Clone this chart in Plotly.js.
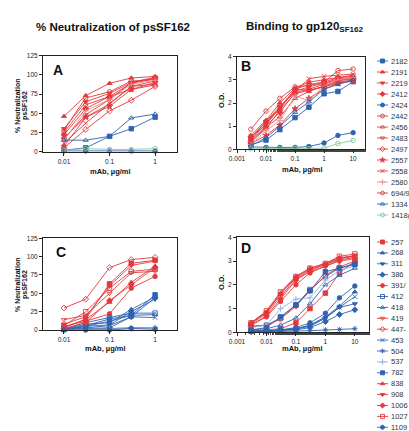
<!DOCTYPE html>
<html><head><meta charset="utf-8">
<script src="https://cdn.plot.ly/plotly-3.0.1.min.js"></script>
<style>html,body{margin:0;padding:0;background:#fff}#chart{width:409px;height:431px}</style>
</head><body><div id="chart"></div>
<script>
// ---------- data ----------
const doseNeut = [0.01, 0.03, 0.1, 0.3, 1];
const doseBind = [0.003, 0.01, 0.03, 0.1, 0.3, 1, 3, 10];

const mabsTop = ['2182','2191','2219','2412','2424','2442','2456','2483','2497','2557','2558','2580','694/9','1334','1418('];
const neutA = [
  [2, 5, 20, 30, 45],
  [46, 73, 89, 96, 98],
  [30, 65, 76, 90, 97],
  [22, 56, 72, 89, 95],
  [1, 1, 1, 1, 1],
  [28, 70, 78, 92, 94],
  [18, 45, 62, 85, 92],
  [17, 48, 68, 90, 96],
  [5, 29, 53, 67, 85],
  [7, 45, 59, 81, 90],
  [11, 37, 63, 85, 88],
  [15, 53, 68, 88, 93],
  [25, 61, 72, 81, 87],
  [15, 15, 20, 44, 49],
  [2, 4, 3, 3, 4]
];
const bindB = [
  [0.2, 0.4, 0.85, 1.37, 1.82, 2.4, 2.5, 2.92],
  [0.6, 1.25, 2.0, 2.65, 2.9, 3.0, 3.1, 3.15],
  [0.5, 1.2, 1.85, 2.5, 2.7, 2.85, 3.05, 3.1],
  [0.4, 1.0, 1.6, 2.45, 2.6, 2.8, 3.0, 3.05],
  [0.1, 0.08, 0.08, 0.08, 0.12, 0.27, 0.6, 0.72],
  [0.87, 1.65, 2.2, 2.7, 2.75, 2.9, 3.4, 3.47],
  [0.35, 0.95, 1.4, 2.2, 2.5, 2.75, 2.95, 3.05],
  [0.45, 1.1, 1.8, 2.6, 2.8, 2.9, 3.1, 3.2],
  [0.3, 0.9, 1.7, 2.4, 2.55, 2.7, 2.9, 3.0],
  [0.25, 0.6, 1.05, 1.75, 2.2, 2.6, 2.85, 2.95],
  [0.55, 1.05, 1.8, 2.5, 3.05, 3.15, 3.2, 3.25],
  [0.2, 0.8, 1.25, 2.3, 2.1, 2.75, 3.0, 3.1],
  [0.5, 1.2, 1.75, 2.6, 2.55, 2.7, 2.85, 2.95],
  [0.15, 0.5, 1.0, 1.6, 2.05, 2.6, 2.8, 3.0],
  [0.02, 0.02, 0.02, 0.03, 0.03, 0.05, 0.25, 0.38]
];

const mabsBottom = ['257','268','311','386','391/','412','418','419','447-','453','504','537','782','838','908','1006','1027','1109'];
const neutC = [
  [3, 15, 63, 91, 95],
  [1, 8, 10, 28, 45],
  [0, 5, 7, 25, 42],
  [0, 2, 3, 18, 44],
  [5, 12, 22, 57, 73],
  [1, 10, 17, 23, 23],
  [0, 5, 12, 20, 21],
  [14, 20, 50, 78, 80],
  [30, 42, 85, 96, 99],
  [0, 3, 6, 18, 17],
  [0, 1, 2, 3, 3],
  [0, 1, 1, 2, 3],
  [1, 6, 15, 20, 48],
  [4, 14, 38, 65, 87],
  [8, 18, 60, 88, 94],
  [2, 10, 40, 62, 85],
  [6, 25, 57, 80, 83],
  [0, 0, 0, 2, 1]
];
const bindD = [
  [0.05, 0.1, 0.15, 0.4, 1.0, 1.65, 2.5, 3.0],
  [0.05, 0.05, 0.1, 0.15, 0.3, 0.65, 1.1, 1.7],
  [0.05, 0.05, 0.1, 0.12, 0.3, 0.6, 1.05, 1.2],
  [0.03, 0.05, 0.08, 0.1, 0.2, 0.45, 0.75, 0.95],
  [0.3, 0.65, 1.3, 2.0, 2.5, 2.8, 3.05, 3.15],
  [0.25, 0.3, 0.6, 1.15, 1.8, 2.35, 2.7, 2.9],
  [0.1, 0.15, 0.3, 0.6, 1.2, 2.0, 2.4, 2.7],
  [0.35, 0.8, 1.5, 2.25, 2.6, 2.85, 3.1, 3.2],
  [0.25, 0.3, 0.55, 1.1, 1.75, 2.4, 2.75, 3.0],
  [0.05, 0.05, 0.1, 0.15, 0.25, 0.6, 1.05, 1.5],
  [0.02, 0.02, 0.03, 0.05, 0.07, 0.1, 0.12, 0.15],
  [0.2, 0.3, 1.0, 1.4, 1.45, 2.2, 2.6, 2.8],
  [0.1, 0.2, 0.65, 1.15, 1.75, 2.55, 2.7, 2.85],
  [0.4, 0.85, 1.65, 2.35, 2.7, 2.9, 3.15, 3.2],
  [0.38, 0.85, 1.6, 2.3, 2.65, 2.85, 3.1, 3.25],
  [0.3, 0.7, 1.4, 2.2, 2.55, 2.8, 3.0, 3.1],
  [0.4, 0.9, 1.7, 2.35, 2.7, 2.9, 3.2, 3.3],
  [0.05, 0.05, 0.1, 0.2, 0.4, 0.8, 1.45, 1.95]
];

const tickNeutVals = [0, 25, 50, 75, 100, 125];
const tickODVals = [0, 1, 2, 3, 4];
const tickDoseNeutVals = [0.01, 0.1, 1];
const tickDoseNeutText = ['0.01', '0.1', '1'];
const tickDoseBindVals = [0.001, 0.01, 0.1, 1, 10];
const tickDoseBindText = ['0.001', '0.01', '0.1', '1', '10'];

// ---------- styles ----------
const RED = '#e2393c', BLUE = '#2f62b0', GREEN = '#86c898', LBLUE = '#93b3de', PINK = '#ea8a8c';
const colorsTop = [BLUE, RED, RED, RED, BLUE, RED, RED, RED, RED, RED, RED, PINK, RED, BLUE, GREEN];
const symbolsTop = ['square','triangle-up','triangle-down','diamond','circle','circle-open','triangle-up-open','triangle-down-open','diamond-open','star','x-thin-open','cross-thin-open','hexagon-open','triangle-up-open','circle-open'];
const colorsBottom = [RED, BLUE, BLUE, BLUE, RED, BLUE, BLUE, RED, RED, BLUE, BLUE, LBLUE, BLUE, RED, RED, RED, RED, BLUE];
const symbolsBottom = ['square','triangle-up','triangle-down','diamond','circle','square-open','triangle-up-open','triangle-down-open','diamond-open','x-thin-open','asterisk-open','cross-thin-open','square','triangle-up','triangle-down','diamond','square-open','circle'];

const W = 409, H = 431;
const fx = p => p / W;
const fy = p => 1 - p / H;
const FONT = 'Liberation Sans, Arial, Helvetica, sans-serif';

const traces = [];
function addPanel(xs, rows, colors, symbols, xa, ya) {
  rows.forEach((vals, i) => {
    traces.push({
      type: 'scatter', mode: 'lines+markers', x: xs, y: vals, xaxis: xa, yaxis: ya,
      line: {color: colors[i], width: 0.9},
      marker: {symbol: symbols[i], size: 4.5, color: colors[i], line: {color: colors[i], width: 0.9}},
      cliponaxis: false, showlegend: false, hoverinfo: 'skip'
    });
  });
}
addPanel(doseNeut, neutA, colorsTop, symbolsTop, 'x', 'y');
addPanel(doseBind, bindB, colorsTop, symbolsTop, 'x2', 'y2');
addPanel(doseNeut, neutC, colorsBottom, symbolsBottom, 'x3', 'y3');
addPanel(doseBind, bindD, colorsBottom, symbolsBottom, 'x4', 'y4');

const ann = [];
function addKey(names, colors, symbols, xa, ya) {
  names.forEach((nm, i) => {
    traces.push({
      type: 'scatter', mode: 'lines+markers', x: [0, 0.5, 1], y: [i, i, i], xaxis: xa, yaxis: ya,
      line: {color: colors[i], width: 0.9},
      marker: {symbol: symbols[i], size: 4, color: colors[i], opacity: [0, 1, 0], line: {color: colors[i], width: 0.9}},
      cliponaxis: false, showlegend: false, hoverinfo: 'skip'
    });
    ann.push({text: nm, x: 1, y: i, xref: xa, yref: ya, xanchor: 'left', yanchor: 'middle', xshift: 1,
      showarrow: false, font: {family: FONT, size: 7.5, color: '#333'}});
  });
}
addKey(mabsTop, colorsTop, symbolsTop, 'x5', 'y5');
addKey(mabsBottom, colorsBottom, symbolsBottom, 'x6', 'y6');

const axBase = {
  showline: true, mirror: true, linecolor: '#222', linewidth: 1, showgrid: false, zeroline: false,
  ticks: 'outside', ticklen: 3, tickwidth: 1, tickcolor: '#222',
  tickfont: {family: FONT, size: 6.5, color: '#222'}, fixedrange: true
};
function xLog(domPx, range, vals, text, anchor, minor) {
  const a = Object.assign({}, axBase, {type: 'log', domain: [fx(domPx[0]), fx(domPx[1])], range: range,
    tickvals: vals, ticktext: text, anchor: anchor});
  if (minor) a.minor = {ticks: 'outside', ticklen: 2, tickcolor: '#444', showgrid: false};
  return a;
}
function yLin(domPx, range, vals, anchor) {
  return Object.assign({}, axBase, {domain: [fy(domPx[1]), fy(domPx[0])], range: range, tickvals: vals, anchor: anchor});
}
function keyY(firstPx, step, n, bottomPx) {
  const topPx = firstPx - step / 2;
  const bot = Math.min(bottomPx, H);
  const botIdx = -0.5 + (bot - topPx) / step;
  return {domain: [fy(bot), fy(topPx)], range: [botIdx, -0.5], visible: false, fixedrange: true};
}

function txt(t, xp, yp, size, bold, angle, xanchor) {
  ann.push({text: bold ? '<b>' + t + '</b>' : t, x: fx(xp), y: fy(yp), xref: 'paper', yref: 'paper',
    showarrow: false, xanchor: xanchor || 'center', yanchor: 'middle', textangle: angle || 0,
    font: {family: FONT, size: size, color: '#111'}});
}
txt('% Neutralization of psSF162', 113, 27, 11.5, true);
txt('Binding to gp120<sub>SF162</sub>', 305, 27, 11.5, true);
txt('A', 58, 70, 14, true);
txt('B', 246, 66, 14, true);
txt('C', 61, 252, 14, true);
txt('D', 246, 248, 14, true);
txt('% Neutralization', 17, 106, 7, true, -90);
txt('psSF162', 25, 106, 7, true, -90);
txt('% Neutralization', 17, 285, 7, true, -90);
txt('psSF162', 25, 285, 7, true, -90);
txt('O.D.', 221, 101, 7.5, true, -90);
txt('O.D.', 221, 283, 7.5, true, -90);
txt('mAb, \u00b5g/ml', 110, 172, 7.5, true);
txt('mAb, \u00b5g/ml', 302, 169.5, 7.5, true);
txt('mAb, \u00b5g/ml', 105, 348, 7.5, true);
txt('mAb, \u00b5g/ml', 302, 348, 7.5, true);

const layout = {
  width: W, height: H, margin: {l: 0, r: 0, t: 0, b: 0},
  paper_bgcolor: '#fff', plot_bgcolor: 'rgba(0,0,0,0)', showlegend: false,
  font: {family: FONT},
  xaxis: xLog([43, 177], [-2.46, 0.48], tickDoseNeutVals, tickDoseNeutText, 'y', false),
  yaxis: yLin([55.7, 151.7], [0, 125], tickNeutVals, 'x'),
  xaxis2: xLog([237, 365], [-3, 1.41], tickDoseBindVals, tickDoseBindText, 'y2', true),
  yaxis2: yLin([56.7, 149.3], [0, 4], tickODVals, 'x2'),
  xaxis3: xLog([43, 176.5], [-2.46, 0.47], tickDoseNeutVals, tickDoseNeutText, 'y3', false),
  yaxis3: yLin([238.3, 330], [0, 125], tickNeutVals, 'x3'),
  xaxis4: xLog([237, 369], [-3, 1.48], tickDoseBindVals, tickDoseBindText, 'y4', true),
  yaxis4: yLin([237.3, 332.3], [0, 4], tickODVals, 'x4'),
  xaxis5: {domain: [fx(377), fx(388)], range: [0, 1], visible: false, anchor: 'y5', fixedrange: true},
  yaxis5: Object.assign(keyY(61, 11, mabsTop.length, 61 + 11 * (mabsTop.length - 1) + 5.5), {anchor: 'x5'}),
  xaxis6: {domain: [fx(377), fx(388)], range: [0, 1], visible: false, anchor: 'y6', fixedrange: true},
  yaxis6: Object.assign(keyY(242, 10.9, mabsBottom.length, 242 + 10.9 * (mabsBottom.length - 1) + 5.5), {anchor: 'x6'}),
  annotations: ann
};

Plotly.newPlot('chart', traces, layout, {staticPlot: true, displayModeBar: false});
</script>
</body></html>
